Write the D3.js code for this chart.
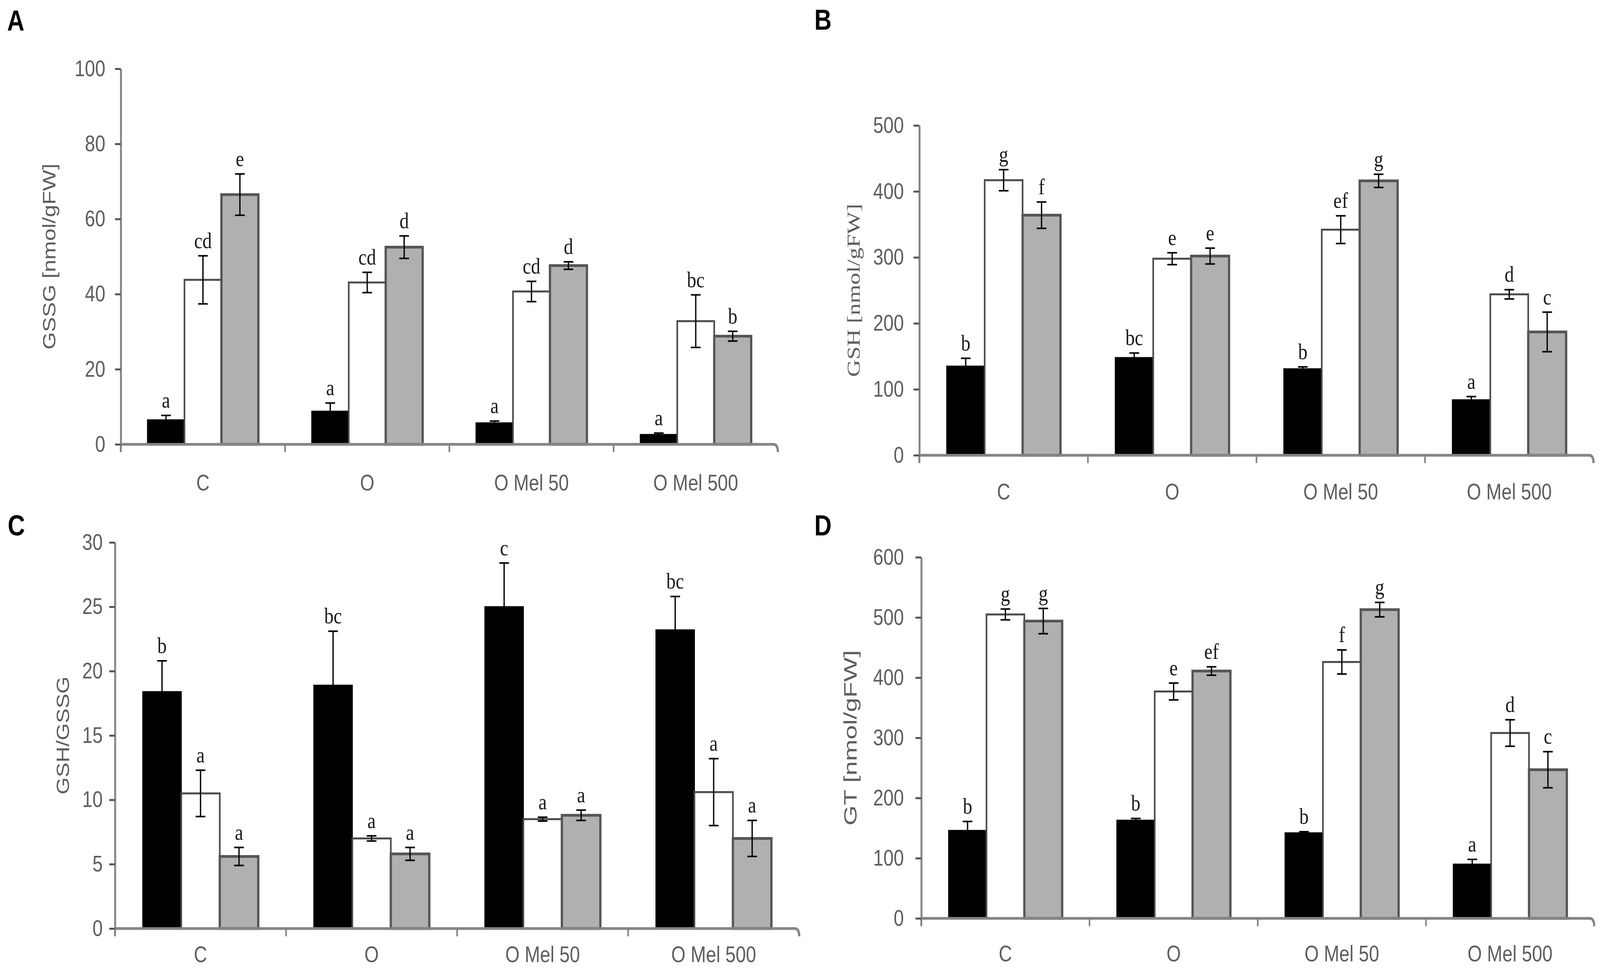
<!DOCTYPE html>
<html><head><meta charset="utf-8">
<script src="https://cdn.jsdelivr.net/npm/d3@7"></script>
<style>html,body{margin:0;padding:0;background:#fff;overflow:hidden}svg{display:block}</style>
</head><body>
<svg id="chart"></svg>
<script>
// ---------------- DATA ----------------
const categories = ["C", "O", "O Mel 50", "O Mel 500"];

// Panel A: GSSG [nmol/gFW]
const gssgBlack = [6.5, 8.8, 5.7, 2.6];
const gssgBlackErr = [1.2, 2.2, 0.5, 0.4];
const gssgWhite = [43.8, 43.1, 40.7, 32.8];
const gssgWhiteErr = [6.4, 2.7, 2.7, 7.0];
const gssgGray = [66.5, 52.5, 47.6, 28.8];
const gssgGrayErr = [5.5, 3.0, 1.0, 1.3];
const gssgLetters = [["a","a","a","a"], ["cd","cd","cd","bc"], ["e","d","d","b"]];
const gssgTicks = [0, 20, 40, 60, 80, 100];

// Panel B: GSH [nmol/gFW]
const gshBlack = [135, 148, 131, 84];
const gshBlackErr = [12, 7, 3, 5];
const gshWhite = [417, 298, 342, 244];
const gshWhiteErr = [16, 9, 21, 7];
const gshGray = [364, 302, 416, 187];
const gshGrayErr = [20, 12, 10, 30];
const gshLetters = [["b","bc","b","a"], ["g","e","ef","d"], ["f","e","g","c"]];
const gshTicks = [0, 100, 200, 300, 400, 500];

// Panel C: GSH/GSSG
const ratioBlack = [18.4, 18.9, 25.0, 23.2];
const ratioBlackErr = [2.4, 4.2, 3.4, 2.6];
const ratioWhite = [10.5, 7.0, 8.5, 10.6];
const ratioWhiteErr = [1.8, 0.2, 0.15, 2.6];
const ratioGray = [5.6, 5.8, 8.8, 7.0];
const ratioGrayErr = [0.7, 0.5, 0.4, 1.4];
const ratioLetters = [["b","bc","c","bc"], ["a","a","a","a"], ["a","a","a","a"]];
const ratioTicks = [0, 5, 10, 15, 20, 25, 30];

// Panel D: GT [nmol/gFW]
const gtBlack = [146, 163, 142, 90];
const gtBlackErr = [15, 3, 2, 8];
const gtWhite = [505, 377, 426, 308];
const gtWhiteErr = [9, 14, 20, 22];
const gtGray = [494, 411, 513, 247];
const gtGrayErr = [21, 7, 12, 30];
const gtLetters = [["b","b","b","a"], ["g","e","f","d"], ["g","ef","g","c"]];
const gtTicks = [0, 100, 200, 300, 400, 500, 600];

const seriesFill = ["#000000", "#ffffff", "#b0b0b0"];
const seriesStroke = ["#000000", "#4a4a4a", "#555555"];
const seriesStrokeW = [3, 5, 7];

// ---------------- LAYOUT ----------------
const W = 4953, H = 2477;
const panels = [
  { label: "A", lx: 22, ly: 78, title: "GSSG [nmol/gFW]", titleFont: "sans", tx: 152, titleLen: 476,
    x0: 374, x1: 2408, yTop: 176, yBot: 1137, yMax: 100, ticks: gssgTicks, tickPad: 30, catOff: 118,
    vals: [gssgBlack, gssgWhite, gssgGray], errs: [gssgBlackErr, gssgWhiteErr, gssgGrayErr], letters: gssgLetters },
  { label: "B", lx: 2521, ly: 76, title: "GSH [nmol/gFW]", titleFont: "serif", tx: 2642, titleLen: 443,
    x0: 2846, x1: 4933, yTop: 321, yBot: 1165, yMax: 500, ticks: gshTicks, tickPad: 30, catOff: 113,
    vals: [gshBlack, gshWhite, gshGray], errs: [gshBlackErr, gshWhiteErr, gshGrayErr], letters: gshLetters },
  { label: "C", lx: 24, ly: 1370, title: "GSH/GSSG", titleFont: "sans", tx: 194, titleLen: 302,
    x0: 356, x1: 2474, yTop: 1388, yBot: 2376, yMax: 30, ticks: ratioTicks, tickPad: 20, catOff: 86,
    vals: [ratioBlack, ratioWhite, ratioGray], errs: [ratioBlackErr, ratioWhiteErr, ratioGrayErr], letters: ratioLetters },
  { label: "D", lx: 2521, ly: 1370, title: "GT [nmol/gFW]", titleFont: "sans", tx: 2632, titleLen: 449,
    x0: 2852, x1: 4935, yTop: 1426, yBot: 2350, yMax: 600, ticks: gtTicks, tickPad: 36, catOff: 110,
    vals: [gtBlack, gtWhite, gtGray], errs: [gtBlackErr, gtWhiteErr, gtGrayErr], letters: gtLetters }
];

const SANS = "'Liberation Sans', Arial, 'DejaVu Sans', sans-serif";
const SERIF = "'Liberation Serif', 'Times New Roman', 'DejaVu Serif', serif";
const AXIS = "#858585";
const TEXT = "#5e5e5e";

const vw = window.innerWidth || W, vh = window.innerHeight || H;
const svg = d3.select("#chart")
  .attr("width", vw).attr("height", vh)
  .attr("viewBox", `0 0 ${W} ${H}`)
  .attr("preserveAspectRatio", "none");
svg.append("rect").attr("width", W).attr("height", H).attr("fill", "#fff");

function drawPanel(p) {
  const g = svg.append("g");
  const x = d3.scaleBand().domain(categories).range([p.x0, p.x1]).paddingInner(0).paddingOuter(0);
  const y = d3.scaleLinear().domain([0, p.yMax]).range([p.yBot, p.yTop]);
  const groupFrac = 0.675;
  const inner = d3.scaleBand().domain([0, 1, 2]).range([0, x.bandwidth() * groupFrac]);
  const off = x.bandwidth() * (1 - groupFrac) / 2;

  // bars
  p.vals.forEach((vals, si) => {
    g.selectAll(null).data(vals).enter().append("rect")
      .attr("x", (d, i) => x(categories[i]) + off + inner(si))
      .attr("width", inner.bandwidth())
      .attr("y", d => y(d))
      .attr("height", d => y(0) - y(d))
      .attr("fill", seriesFill[si])
      .attr("stroke", seriesStroke[si])
      .attr("stroke-width", seriesStrokeW[si]);
  });

  // x axis line and boundary ticks
  g.append("line").attr("x1", p.x0).attr("x2", p.x1 - 12).attr("y1", p.yBot).attr("y2", p.yBot)
    .attr("stroke", AXIS).attr("stroke-width", 7);
  const bounds = categories.map(c => x(c)).slice(1);
  g.selectAll(null).data(bounds).enter().append("line")
    .attr("x1", d => d).attr("x2", d => d)
    .attr("y1", p.yBot).attr("y2", p.yBot + 20)
    .attr("stroke", AXIS).attr("stroke-width", 5);
  // curved end of the axis
  g.append("path")
    .attr("d", `M${p.x1 - 14},${p.yBot} Q${p.x1},${p.yBot} ${p.x1},${p.yBot + 20}`)
    .attr("fill", "none").attr("stroke", AXIS).attr("stroke-width", 7);
  g.append("line").attr("x1", p.x0).attr("x2", p.x0).attr("y1", p.yBot).attr("y2", p.yBot + 20)
    .attr("stroke", AXIS).attr("stroke-width", 6);

  // error bars and letters
  p.vals.forEach((vals, si) => {
    const errs = p.errs[si];
    vals.forEach((v, i) => {
      const cx = x(categories[i]) + off + inner(si) + inner.bandwidth() / 2;
      const e = errs[i];
      const eg = g.append("g").attr("stroke", "#000").attr("stroke-width", 4);
      eg.append("line").attr("x1", cx).attr("x2", cx).attr("y1", y(v + e)).attr("y2", y(v - e));
      eg.append("line").attr("x1", cx - 15).attr("x2", cx + 15).attr("y1", y(v + e)).attr("y2", y(v + e));
      eg.append("line").attr("x1", cx - 15).attr("x2", cx + 15).attr("y1", y(v - e)).attr("y2", y(v - e));
      g.append("text").attr("x", cx).attr("y", y(v + e) - 20)
        .attr("text-anchor", "middle")
        .attr("font-family", SERIF).attr("font-size", 58).attr("fill", "#1a1a1a")
        .text(p.letters[si][i]);
    });
  });

  // y axis
  const yAxis = d3.axisLeft(y).tickValues(p.ticks).tickSize(18).tickSizeOuter(0).tickPadding(p.tickPad)
    .tickFormat(d3.format("d"));
  const ya = g.append("g").attr("transform", `translate(${p.x0},0)`).call(yAxis);
  ya.select(".domain").attr("stroke", AXIS).attr("stroke-width", 6);
  ya.selectAll(".tick line").attr("stroke", "#555").attr("stroke-width", 5);
  ya.selectAll(".tick text").attr("font-family", SANS).attr("font-size", 57).attr("fill", TEXT);

  // category labels
  g.selectAll(null).data(categories).enter().append("text")
    .attr("x", d => x(d) + x.bandwidth() / 2)
    .attr("y", p.yBot + p.catOff)
    .attr("text-anchor", "middle")
    .attr("font-family", SANS).attr("font-size", 57).attr("fill", TEXT)
    .text(d => d);

  // y title
  const ty = (p.yTop + p.yBot) / 2;
  g.append("text")
    .attr("transform", `translate(${p.tx},${ty}) rotate(-90)`)
    .attr("text-anchor", "middle").attr("dy", "0.35em")
    .attr("font-family", p.titleFont === "serif" ? SERIF : SANS)
    .attr("font-size", 56).attr("fill", TEXT)
    .attr("textLength", p.titleLen).attr("lengthAdjust", "spacingAndGlyphs")
    .text(p.title);

  // panel letter
  svg.append("text").attr("x", p.lx).attr("y", p.ly)
    .attr("font-family", SANS).attr("font-weight", "bold").attr("font-size", 74).attr("fill", "#000")
    .text(p.label);
}

panels.forEach(drawPanel);
</script>
</body></html>
